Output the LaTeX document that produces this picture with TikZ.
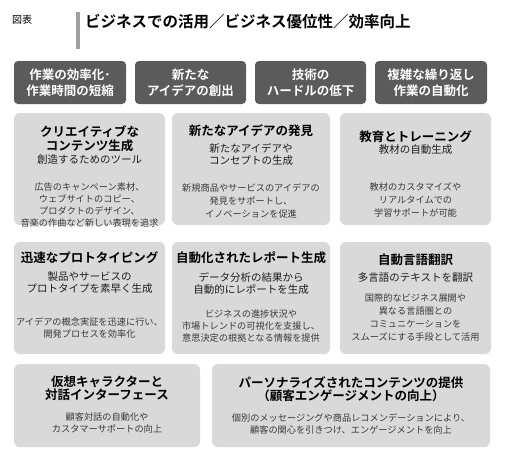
\documentclass[tikz,border=0pt]{standalone}
\usepackage{fontspec}
\setmainfont{Noto Sans CJK JP}[BoldFont={Noto Sans CJK JP Bold}]
\definecolor{darkbox}{HTML}{5B5B5B}
\definecolor{lightbox}{HTML}{D9D9D9}
\definecolor{barcol}{HTML}{A0A0A0}
\definecolor{bodycol}{HTML}{3A3A3A}
\definecolor{subcol}{HTML}{1E1E1E}
\begin{document}
\begin{tikzpicture}[x=1pt,y=-1pt,
  darkbox/.style={fill=darkbox, draw=none, rounded corners=4pt, inner sep=0pt, outer sep=0pt},
  lightbox/.style={fill=lightbox, draw=none, rounded corners=6pt, inner sep=0pt, outer sep=0pt},
  darktext/.style={text=white, font=\fontsize{12.5}{16}\selectfont\bfseries, align=center, inner sep=0pt},
  ttl/.style={text=black, font=\fontsize{12.5}{13.5}\selectfont\bfseries, align=center, inner sep=0pt},
  sub/.style={text=subcol, font=\fontsize{10.5}{12}\selectfont, align=center, inner sep=0pt},
  body/.style={text=bodycol, font=\fontsize{9.2}{12}\selectfont, align=center, inner sep=0pt},
  bodyw/.style={text=bodycol, font=\fontsize{9.2}{13}\selectfont, align=center, inner sep=0pt}
]
\useasboundingbox (0,0) rectangle (527,466);
\fill[white] (0,0) rectangle (527,466);

% header
\node[anchor=west, inner sep=0pt, font=\fontsize{10}{12}\selectfont] (fig) at (12,19.5) {図表};
\node[fill=barcol, minimum width=4pt, minimum height=37pt, inner sep=0pt] (bar) at (78,30.5) {};
\node[anchor=west, inner sep=0pt, font=\fontsize{15.5}{18}\selectfont\bfseries] (title) at (85,21.5) {ビジネスでの活用／ビジネス優位性／効率向上};

% dark boxes
\node[darkbox, minimum width=112pt, minimum height=43pt] (d1) at (70,82.5) {};
\node[darkbox, minimum width=111pt, minimum height=43pt] (d2) at (190.5,82.5) {};
\node[darkbox, minimum width=111pt, minimum height=43pt] (d3) at (310.5,82.5) {};
\node[darkbox, minimum width=112pt, minimum height=43pt] (d4) at (431,82.5) {};
\node[darktext] (d1t) at (d1.center) {作業の効率化･\\作業時間の短縮};
\node[darktext] (d2t) at (d2.center) {新たな\\アイデアの創出};
\node[darktext] (d3t) at (d3.center) {技術の\\ハードルの低下};
\node[darktext] (d4t) at (d4.center) {複雑な繰り返し\\作業の自動化};

% row 1
\node[lightbox, minimum width=151pt, minimum height=112pt] (b11) at (89.5,169) {};
\node[lightbox, minimum width=158pt, minimum height=112pt] (b12) at (251,169) {};
\node[lightbox, minimum width=151pt, minimum height=112pt] (b13) at (415.5,169) {};

\node[ttl] (b11t) at (89.5,138.5) {クリエイティブな\\コンテンツ生成};
\node[sub] (b11s) at (89.5,160) {創造するためのツール};
\node[body] (b11b) at (89.5,205) {広告のキャンペーン素材、\\ウェブサイトのコピー、\\プロダクトのデザイン、\\音楽の作曲など新しい表現を追求};

\node[ttl] (b12t) at (251,131) {新たなアイデアの発見};
\node[sub] (b12s) at (251,154) {新たなアイデアや\\コンセプトの生成};
\node[bodyw] (b12b) at (251,201) {新規商品やサービスのアイデアの\\発見をサポートし、\\イノベーションを促進};

\node[ttl] (b13t) at (415.5,137) {教育とトレーニング};
\node[sub] (b13s) at (415.5,150) {教材の自動生成};
\node[bodyw] (b13b) at (415.5,200) {教材のカスタマイズや\\リアルタイムでの\\学習サポートが可能};

% row 2
\node[lightbox, minimum width=151pt, minimum height=112pt] (b21) at (89.5,298) {};
\node[lightbox, minimum width=158pt, minimum height=112pt] (b22) at (251,298) {};
\node[lightbox, minimum width=151pt, minimum height=112pt] (b23) at (415.5,298) {};

\node[ttl] (b21t) at (89.5,258) {迅速なプロトタイピング};
\node[sub] (b21s) at (89.5,283) {製品やサービスの\\プロトタイプを素早く生成};
\node[body] (b21b) at (89.5,328) {アイデアの概念実証を迅速に行い、\\開発プロセスを効率化};

\node[ttl] (b22t) at (251,258) {自動化されたレポート生成};
\node[sub] (b22s) at (251,283.5) {データ分析の結果から\\自動的にレポートを生成};
\node[body] (b22b) at (251,326.5) {ビジネスの進捗状況や\\市場トレンドの可視化を支援し、\\意思決定の根拠となる情報を提供};

\node[ttl] (b23t) at (415.5,260) {自動言語翻訳};
\node[sub] (b23s) at (415.5,278) {多言語のテキストを翻訳};
\node[bodyw] (b23b) at (415.5,317.5) {国際的なビジネス展開や\\異なる言語圏との\\コミュニケーションを\\スムーズにする手段として活用};

% row 3
\node[lightbox, minimum width=186pt, minimum height=83pt] (b31) at (107,405.5) {};
\node[lightbox, minimum width=278pt, minimum height=83pt] (b32) at (351,405.5) {};

\node[ttl] (b31t) at (107,388.5) {仮想キャラクターと\\対話インターフェース};
\node[body] (b31b) at (107,423) {顧客対話の自動化や\\カスタマーサポートの向上};

\node[ttl] (b32t) at (351,389) {パーソナライズされたコンテンツの提供\\（顧客エンゲージメントの向上）};
\node[body] (b32b) at (351,424) {個別のメッセージングや商品レコメンデーションにより、\\顧客の関心を引きつけ、エンゲージメントを向上};
\end{tikzpicture}
\end{document}
